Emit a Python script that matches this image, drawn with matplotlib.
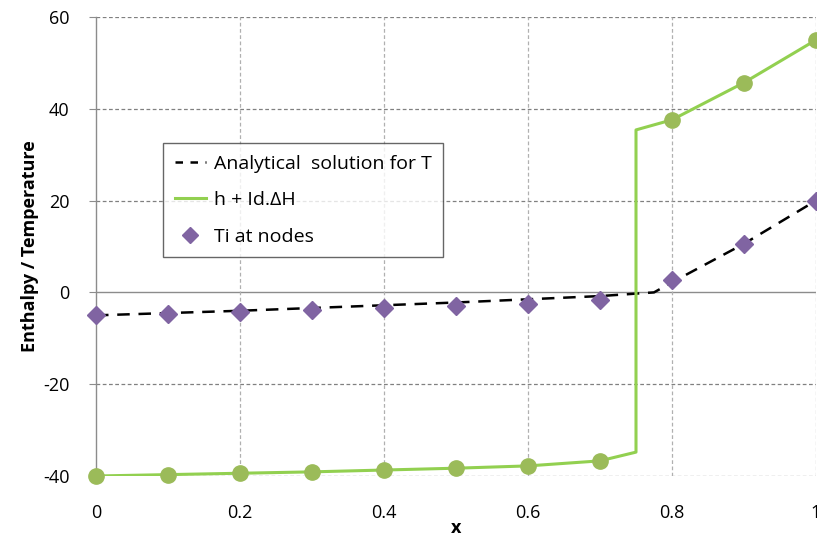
import matplotlib
matplotlib.use("Agg")
import matplotlib.pyplot as plt
from matplotlib.lines import Line2D

# Datos
x_nodos = [0.0, 0.1, 0.2, 0.3, 0.4, 0.5, 0.6, 0.7, 0.8, 0.9, 1.0]
ti_nodos = [-5.0, -4.6, -4.2, -3.8, -3.4, -3.0, -2.5, -1.6, 2.7, 10.6, 20.0]
h_nodos = [-40.0, -39.7, -39.4, -39.1, -38.7, -38.3, -37.8, -36.7, 37.6, 45.7, 55.0]

x_h = [0.0, 0.1, 0.2, 0.3, 0.4, 0.5, 0.6, 0.7, 0.75, 0.75, 0.8, 0.9, 1.0]
h_linea = [-40.0, -39.7, -39.4, -39.1, -38.7, -38.3, -37.8, -36.7, -34.8, 35.4, 37.6, 45.7, 55.0]

x_analitica = [0.0, 0.1, 0.2, 0.3, 0.4, 0.5, 0.6, 0.7, 0.775, 0.8, 0.9, 1.0]
t_analitica = [-5.0, -4.5, -4.0, -3.4, -2.8, -2.2, -1.5, -0.8, 0.0, 2.2, 10.6, 20.0]

x_ticks = [0, 0.2, 0.4, 0.6, 0.8, 1.0]
x_ticklabels = ["0", "0.2", "0.4", "0.6", "0.8", "1"]
y_ticks = [-40, -20, 0, 20, 40, 60]

plt.rcParams['font.family'] = ['Open Sans', 'DejaVu Sans']
plt.rcParams['axes.unicode_minus'] = False

fig = plt.figure(figsize=(8.17, 5.37), dpi=100)
ax = fig.add_axes([96 / 817, 1 - 476 / 537, 720 / 817, 459 / 537])

# Grilla
for yv in y_ticks:
    if yv == 0:
        ax.axhline(0, color='#8c8c8c', lw=1.0, zorder=1)
    else:
        ax.axhline(yv, color='#808080', lw=0.9, ls=(0, (3, 2)), zorder=1)
for xv in x_ticks[1:]:
    ax.axvline(xv, color='#b0b0b0', lw=0.9, ls=(0, (3, 2)), zorder=1)

# Curvas
ax.plot(x_analitica, t_analitica, color='black', lw=1.8, ls=(0, (5, 3.5)), zorder=3)
ax.plot(x_h, h_linea, color='#92d050', lw=2.2, zorder=3)
ax.plot(x_nodos, h_nodos, 'o', color='#9bbb59', markersize=11, zorder=4, clip_on=False)
ax.plot(x_nodos, ti_nodos, 'D', color='#8064a2', markersize=9, zorder=5, clip_on=False)

ax.set_xlim(0, 1)
ax.set_ylim(-40, 60)
ax.set_xticks(x_ticks)
ax.set_xticklabels(x_ticklabels)
ax.set_yticks(y_ticks)
ax.tick_params(axis='x', length=0, labelsize=13, pad=20, colors='black')
ax.tick_params(axis='y', length=5, labelsize=13, color='#8c8c8c', pad=14)

for s in ['top', 'right', 'bottom']:
    ax.spines[s].set_visible(False)
ax.spines['left'].set_color('#8c8c8c')
ax.spines['left'].set_linewidth(1.0)

ax.set_xlabel("x", fontsize=13, fontweight='bold', labelpad=-2)
ax.set_ylabel("Enthalpy / Temperature", fontsize=13, fontweight='bold', labelpad=3)

# Leyenda
handles = [
    Line2D([], [], color='black', lw=1.8, ls=(0, (3, 3))),
    Line2D([], [], color='#92d050', lw=2.2),
    Line2D([], [], ls='none', marker='D', color='#8064a2', markersize=8),
]
labels = ["Analytical  solution for T", "h + Id.\u0394H", "Ti at nodes"]
leg = ax.legend(handles, labels, loc='upper left', bbox_to_anchor=(67 / 720, (476 - 143) / 459),
                fontsize=14, frameon=True, fancybox=False, handlelength=1.6, handletextpad=0.4,
                labelspacing=0.95, borderpad=0.6, borderaxespad=0)
leg.get_frame().set_edgecolor('#404040')
leg.get_frame().set_linewidth(1.0)

plt.savefig("out.png", dpi=100)
